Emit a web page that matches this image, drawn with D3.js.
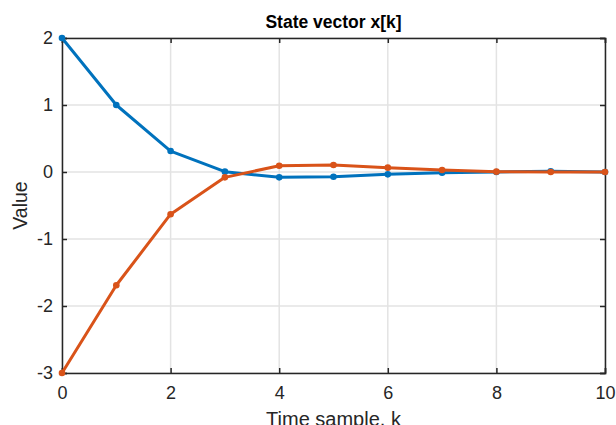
<!DOCTYPE html>
<html><head><meta charset="utf-8">
<script src="https://cdn.jsdelivr.net/npm/d3@7"></script>
<style>body{margin:0;background:#fff;}svg{display:block;font-family:"Liberation Sans",Arial,sans-serif;}</style>
</head><body>
<svg id="c" width="616" height="425"></svg>
<script>
const k = [0,1,2,3,4,5,6,7,8,9,10];
const x1 = [2, 1.0, 0.313, 0.005, -0.08, -0.07, -0.035, -0.01, 0.0, 0.01, 0.0];
const x2 = [-3, -1.69, -0.63, -0.08, 0.094, 0.104, 0.065, 0.03, 0.005, 0.0, 0.0];
const xTicks = [0,2,4,6,8,10];
const yTicks = [-3,-2,-1,0,1,2];
const colors = ["#0072BD", "#D95319"];

const svg = d3.select("#c");
const L = 62, R = 605, T = 38, B = 373;
const xs = d3.scaleLinear().domain([0,10]).range([L,R]);
const ys = d3.scaleLinear().domain([-3,2]).range([B,T]);
const fmt = d => String(d);

// grid
svg.append("g").selectAll("line").data(xTicks).join("line")
  .attr("x1",d=>xs(d)).attr("x2",d=>xs(d)).attr("y1",T).attr("y2",B)
  .attr("stroke","#e3e3e3").attr("stroke-width",1.5);
svg.append("g").selectAll("line").data(yTicks).join("line")
  .attr("y1",d=>ys(d)).attr("y2",d=>ys(d)).attr("x1",L).attr("x2",R)
  .attr("stroke","#e3e3e3").attr("stroke-width",1.5);

// axes
const fs = "18px";
const xa = svg.append("g").attr("transform",`translate(0,${B})`)
  .call(d3.axisBottom(xs).tickValues(xTicks).tickSize(-5).tickPadding(13).tickFormat(fmt));
const xt = svg.append("g").attr("transform",`translate(0,${T})`)
  .call(d3.axisTop(xs).tickValues(xTicks).tickSize(-5).tickFormat(""));
const ya = svg.append("g").attr("transform",`translate(${L},0)`)
  .call(d3.axisLeft(ys).tickValues(yTicks).tickSize(-5).tickPadding(9).tickFormat(fmt));
const yr = svg.append("g").attr("transform",`translate(${R},0)`)
  .call(d3.axisRight(ys).tickValues(yTicks).tickSize(-5).tickFormat(""));
[xa,xt,ya,yr].forEach(g=>{
  g.attr("font-size",fs).attr("font-family","Liberation Sans, Arial, sans-serif");
  g.select(".domain").attr("stroke","#262626").attr("stroke-width",1.5);
  g.selectAll(".tick line").attr("stroke","#262626").attr("stroke-width",1.5);
  g.selectAll(".tick text").attr("fill","#262626");
});

// lines
const line = d3.line().x((d,i)=>xs(k[i])).y(d=>ys(d));
[x1,x2].forEach((s,j)=>{
  svg.append("path").datum(s).attr("d",line).attr("fill","none")
    .attr("stroke",colors[j]).attr("stroke-width",3).attr("stroke-linejoin","round");
  svg.append("g").selectAll("circle").data(s).join("circle")
    .attr("cx",(d,i)=>xs(k[i])).attr("cy",d=>ys(d)).attr("r",3.3).attr("fill",colors[j]);
});

// labels
svg.append("text").attr("x",(L+R)/2).attr("y",28).attr("text-anchor","middle")
  .attr("font-size","17.5px").attr("font-weight","bold").attr("fill","#000").text("State vector x[k]");
svg.append("text").attr("x",(L+R)/2).attr("y",426).attr("text-anchor","middle")
  .attr("font-size","20px").attr("fill","#262626").text("Time sample, k");
svg.append("text").attr("transform",`translate(27,${(T+B)/2}) rotate(-90)`).attr("text-anchor","middle")
  .attr("font-size","19.5px").attr("fill","#262626").text("Value");
</script>
</body></html>
